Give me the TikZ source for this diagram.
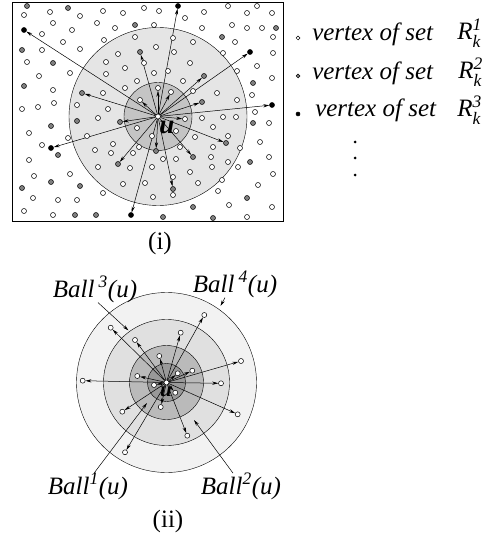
\documentclass[tikz,border=0pt]{standalone}
\usepackage{amsmath}
\usepackage{fontspec}
\setmainfont{Liberation Serif}
\usetikzlibrary{arrows.meta, positioning, backgrounds}
\definecolor{cgrey}{gray}{0.5}
\newcommand{\subsup}[2]{$^{\textit{#2}}_{\textit{#1}}$}
\tikzset{
  every picture/.style={line width=0.5pt},
  vtx/.style={circle, draw=black, fill=#1, inner sep=0pt, minimum size=5pt, line width=0.5pt},
  vtx/.default=white,
  arrow/.style={-{Stealth[length=6pt, width=3.2pt]}, line width=0.5pt},
  lbl/.style={font=\fontsize{25}{28}\selectfont\itshape, inner sep=0pt},
  caption/.style={font=\fontsize{25}{28}\selectfont, inner sep=0pt},
}

\begin{document}
\begin{tikzpicture}[x=1pt, y=-1pt]
  \useasboundingbox (0,0) rectangle (489,540);

  % (i) vertices around u
  \draw[line width=0.8pt] (12,2) rectangle (283,221);
  \node[vtx] (u1) at (158,116.5) {};
  \foreach \x/\y [count=\i] in {24/15,50/12,80/16,103/11,123/13,144/8,159/11,185/18,204/12,228/6,247/13,257/6,272/13,
      53/23,97/23,115/28,154/25,202/28,232/25,247/28,262/28,42/34,72/30,135/37,173/38,273/37,
      63/42,104/40,193/42,235/42,42/50,80/49,156/47,174/52,223/53,273/53,
      27/62,106/62,118/54,144/63,190/63,257/66,237/71,70/73,39/76,106/74,125/68,154/73,168/71,272/78,
      53/90,137/81,183/81,103/93,125/88,193/91,217/93,252/95,54/103,22/109,38/107,77/105,108/109,237/100,
      98/118,202/118,223/117,236/117,255/112,137/128,213/127,269/123,
      29/133,87/136,152/136,176/131,195/137,228/136,68/138,42/145,113/144,139/147,180/147,213/147,240/148,260/142,
      95/150,111/153,133/153,29/160,163/159,176/159,211/157,228/162,269/157,
      98/167,130/168,152/167,212/167,190/172,238/167,273/174,70/174,34/176,
      145/183,173/177,198/183,222/180,258/185,123/184,173/195,218/191,33/198,58/200,77/200,103/193,153/197,
      229/205,272/207,24/211,53/215,247/217}
    \node[vtx] (w\i) at (\x,\y) {};
  \foreach \x/\y [count=\i] in {27/6,68/8,135/25,276/28,222/37,22/50,53/63,24/86,253/83,77/121,51/126,253/123,
      58/155,250/162,51/182,80/186,22/188,247/198,193/207,75/215,96/215,163/217,213/218}
    \node[vtx=cgrey] (gg\i) at (\x,\y) {};
  \foreach \n/\x/\y in {g1/140/52,g2/204/76,g3/82/93,g4/202/102,g5/120/122,g6/226/143,g7/156/151,g8/193/157,g9/118/164,g10/173/189}
    \node[vtx=cgrey] (\n) at (\x,\y) {};
  \foreach \n/\x/\y in {k1/24/30,k2/178/6,k3/250/52,k4/272/105,k5/51/148,k6/131/215}
    \node[vtx=black] (\n) at (\x,\y) {};
  \foreach \n/\x/\y in {i1/158/88,i2/171/92,i3/140/100,i4/185/119}
    \node[vtx] (\n) at (\x,\y) {};
  \node[font=\fontsize{27}{27}\selectfont\bfseries\itshape, inner sep=0pt] (ulab1) at (167,127) {u};
  \begin{scope}[on background layer]
    \draw[fill=black!10] (u1) circle (89pt);
    \draw[fill=black!23] (u1) circle (34pt);
    \foreach \n in {k1,k2,k3,k4,k5,k6,g1,g2,g3,g4,g5,g6,g7,g8,g9,g10,i1,i2,i3,i4}
      \draw[arrow] (u1) -- (\n);
  \end{scope}
  \node[caption] (cap1) at (160,243) {(i)};

  % key
  \node[vtx, minimum size=3.8pt] (key1) at (298,38) {};
  \node[vtx=cgrey, minimum size=3.8pt] (key2) at (298,76) {};
  \node[vtx=black, minimum size=4pt] (key3) at (298,114) {};
  \node[lbl, anchor=base west] (txt1) at (312,41) {vertex of set};
  \node[lbl, anchor=base west] (txt2) at (312,80) {vertex of set};
  \node[lbl, anchor=base west] (txt3) at (315,117) {vertex of set};
  \node[lbl, anchor=base west] (set1) at (457,40) {R\subsup{k}{1}};
  \node[lbl, anchor=base west] (set2) at (458,79) {R\subsup{k}{2}};
  \node[lbl, anchor=base west] (set3) at (457,117) {R\subsup{k}{3}};
  \foreach \y [count=\i] in {142,158,175}
    \fill (355,\y) circle (1.5pt) coordinate (more\i);

  % (ii) nested balls
  \node[vtx] (u2) at (166.5,382.5) {};
  \foreach \x/\y [count=\i] in {110.7/327.7,135/340,180.7/332.7,204.3/315,159.3/356,241/361,137.3/376,177.7/373.3,192.3/370.7,
      82.7/380.7,221/383.3,154/385,175.3/392.7,122.3/411.7,160.7/407,237.7/414.3,187.3/435.7,125/452.3}
    \node[vtx] (b\i) at (\x,\y) {};
  \node[font=\fontsize{21}{21}\selectfont\bfseries\itshape, inner sep=0pt] (ulab2) at (166,392) {u};
  \begin{scope}[on background layer]
    \draw[fill=black!5] (u2) circle (90pt);
    \draw[fill=black!12] (u2) circle (63pt);
    \draw[fill=black!27] (u2) circle (37pt);
    \draw[fill=black!40] (u2) circle (19pt);
    \foreach \i in {1,...,18}
      \draw[arrow] (u2) -- (b\i);
  \end{scope}

  \node[lbl, anchor=base] (ball3) at (95,297) {Ball\,\textsuperscript{3}(u)};
  \node[lbl, anchor=base] (ball4) at (235,292) {Ball\,\textsuperscript{4}(u)};
  \node[lbl, anchor=base] (ball1) at (88,494) {Ball\textsuperscript{1}(u)};
  \node[lbl, anchor=base] (ball2) at (241,494) {Ball\textsuperscript{2}(u)};
  \coordinate (t3) at (128.5,330.5);
  \coordinate (t4) at (220.5,306);
  \coordinate (t1) at (147,403);
  \coordinate (t2) at (194,420);
  \draw[arrow] ([xshift=3pt]ball3.south) -- (t3);
  \draw[arrow] ([xshift=-10pt]ball4.south) -- (t4);
  \draw[arrow] ([xshift=6pt]ball1.north) -- (t1);
  \draw[arrow] ([xshift=-8pt]ball2.north) -- (t2);
  \node[caption] (cap2) at (168,521) {(ii)};
\end{tikzpicture}
\end{document}
